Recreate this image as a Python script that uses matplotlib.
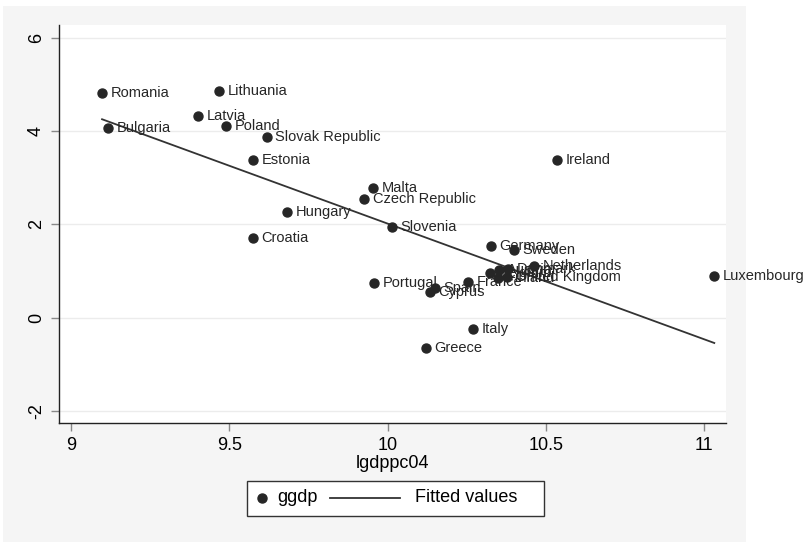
import numpy as np
import matplotlib
matplotlib.use("Agg")
import matplotlib.pyplot as plt
from matplotlib.patches import Rectangle
from matplotlib.lines import Line2D

# data
countries = ["Romania", "Lithuania", "Latvia", "Poland", "Bulgaria",
             "Slovak Republic", "Estonia", "Ireland", "Malta", "Czech Republic",
             "Hungary", "Slovenia", "Croatia", "Germany", "Sweden",
             "Netherlands", "Luxembourg", "Portugal", "Spain", "Cyprus",
             "France", "Italy", "Greece", "Belgium", "Austria", "Denmark",
             "Finland", "United Kingdom"]
lgdppc04 = [9.098, 9.468, 9.401, 9.490, 9.117,
            9.619, 9.575, 10.536, 9.954, 9.926,
            9.682, 10.014, 9.575, 10.327, 10.400,
            10.463, 11.032, 9.957, 10.150, 10.134,
            10.254, 10.270, 10.122, 10.324, 10.352, 10.381,
            10.349, 10.378]
ggdp = [4.81, 4.85, 4.32, 4.10, 4.06,
        3.87, 3.38, 3.38, 2.78, 2.54,
        2.26, 1.94, 1.71, 1.53, 1.45,
        1.11, 0.89, 0.74, 0.64, 0.55,
        0.76, -0.24, -0.65, 0.96, 1.02, 1.04,
        0.85, 0.87]

x = np.array(lgdppc04)
y = np.array(ggdp)
slope, intercept = np.polyfit(x, y, 1)
xs = np.sort(x)
fitted = intercept + slope * xs

plt.rcParams["font.family"] = ["Liberation Sans", "DejaVu Sans"]
W, H = 805, 542

fig = plt.figure(figsize=(8.05, 5.42), dpi=100)
fig.patch.set_facecolor("white")
# light grey graph region behind everything
fig.add_artist(Rectangle((3 / W, 0), 743 / W, 1 - 6 / H,
                         transform=fig.transFigure, facecolor="#f5f5f5",
                         edgecolor="none", zorder=-10))

ax = fig.add_axes([59 / W, 1 - 423 / H, 667 / W, 398 / H])
ax.set_facecolor("white")
ax.set_xlim(8.962, 11.069)
ax.set_ylim(-2.26, 6.27)

ax.set_yticks([-2, 0, 2, 4, 6])
ax.set_xticks([9, 9.5, 10, 10.5, 11])
ax.set_xticklabels(["9", "9.5", "10", "10.5", "11"], fontsize=13)
ax.set_yticklabels(["-2", "0", "2", "4", "6"], fontsize=13,
                   rotation=90, va="center")
ax.tick_params(length=6, width=1, color="#888888", pad=4)
ax.grid(axis="y", color="#ececec", lw=1)
ax.set_axisbelow(True)
for side in ["top", "right"]:
    ax.spines[side].set_visible(False)
for side in ["left", "bottom"]:
    ax.spines[side].set_color("#222222")
    ax.spines[side].set_linewidth(1)

ax.scatter(x, y, s=42, color="#262626", zorder=3, clip_on=False)
ax.plot(xs, fitted, color="#333333", lw=1.3, zorder=2)
for name, xi, yi in zip(countries, x, y):
    ax.annotate(name, (xi, yi), xytext=(6, 0), textcoords="offset points",
                va="center", ha="left", fontsize=10.5, color="#262626",
                annotation_clip=False, zorder=4)

ax.set_xlabel("lgdppc04", fontsize=13, labelpad=1)

# legend box drawn by hand (Stata style)
fig.add_artist(Rectangle((247 / W, 1 - 516 / H), 297 / W, 35 / H,
                         transform=fig.transFigure, facecolor="white",
                         edgecolor="#333333", lw=1))
ly = 1 - 498 / H
fig.add_artist(Line2D([262 / W], [ly], marker="o", markersize=6.5,
                      color="#262626", transform=fig.transFigure))
fig.text(277 / W, ly, "ggdp", fontsize=13, va="center", ha="left")
fig.add_artist(Line2D([330 / W, 400 / W], [ly, ly], color="#333333", lw=1.3,
                      transform=fig.transFigure))
fig.text(415 / W, ly, "Fitted values", fontsize=13, va="center", ha="left")

fig.savefig("out.png", dpi=100)
